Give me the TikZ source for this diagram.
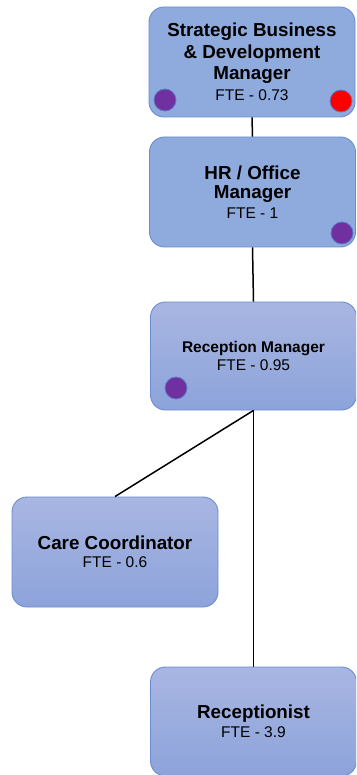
\documentclass[tikz,border=0pt]{standalone}
\usepackage{fontspec}
\setmainfont{Liberation Sans}
\definecolor{boxtop}{HTML}{A9B6E2}
\definecolor{boxbot}{HTML}{8CA3DA}
\definecolor{boxflat}{HTML}{8FAADC}
\definecolor{boxline}{HTML}{6A8DD2}
\definecolor{dotpurple}{HTML}{7030A0}
\definecolor{dotred}{HTML}{FF0000}
\definecolor{dotline}{HTML}{5B7BC8}
\newcommand{\ttlfont}{\fontsize{18.8}{18.8}\selectfont\bfseries}
\newcommand{\smttlfont}{\fontsize{15.5}{15.5}\selectfont\bfseries}
\newcommand{\ftefont}{\fontsize{15.5}{15.5}\selectfont\mdseries}
\tikzset{
  orgbox/.style={draw=boxline, line width=0.9pt, rounded corners=15pt,
    minimum width=206pt, minimum height=110pt, align=center, inner sep=2pt,
    text=black},
  flatbox/.style={orgbox, fill=boxflat},
  gradbox/.style={orgbox, top color=boxtop, bottom color=boxbot},
  lead/.style={font=\fontsize{15.5}{#1}\selectfont},
  dot/.style={circle, draw=dotline, line width=0.8pt, minimum size=22pt, inner sep=0pt},
  link/.style={draw=black, line width=1.5pt}
}
\begin{document}
\begin{tikzpicture}[x=1pt, y=-1pt]
\clip (0,0) rectangle (356,775);
\fill[white] (0,0) rectangle (356,775);
\node[flatbox, lead=21.3pt] (b1) at (252,62) {\ttlfont Strategic Business\\\ttlfont \& Development\\\ttlfont Manager\\\ftefont FTE - 0.73};
\node[flatbox, lead=19.5pt] (b2) at (252.5,192) {\ttlfont HR / Office\\\ttlfont Manager\\\ftefont FTE - 1};
\node[gradbox, lead=18pt, minimum height=108pt] (b3) at (253.5,356) {\smttlfont Reception Manager\\\ftefont FTE - 0.95};
\node[gradbox, lead=18.5pt] (b4) at (115,552) {\ttlfont Care Coordinator\\\ftefont FTE - 0.6};
\node[gradbox, lead=19pt, minimum height=109pt] (b5) at (253.5,721.5) {\ttlfont Receptionist\\\ftefont FTE - 3.9};
\draw[link] (b1.south) -- (b2.north);
\draw[link] (b2.south) -- (b3.north);
\draw[link] (b3.south) -- (b4.north);
\draw[link] (b3.south) -- (b5.north);
\node[dot, fill=dotpurple] (d1) at (165,100) {};
\node[dot, fill=dotred] (d2) at (341,101) {};
\node[dot, fill=dotpurple] (d3) at (342,233) {};
\node[dot, fill=dotpurple] (d4) at (176,388) {};
\end{tikzpicture}
\end{document}
